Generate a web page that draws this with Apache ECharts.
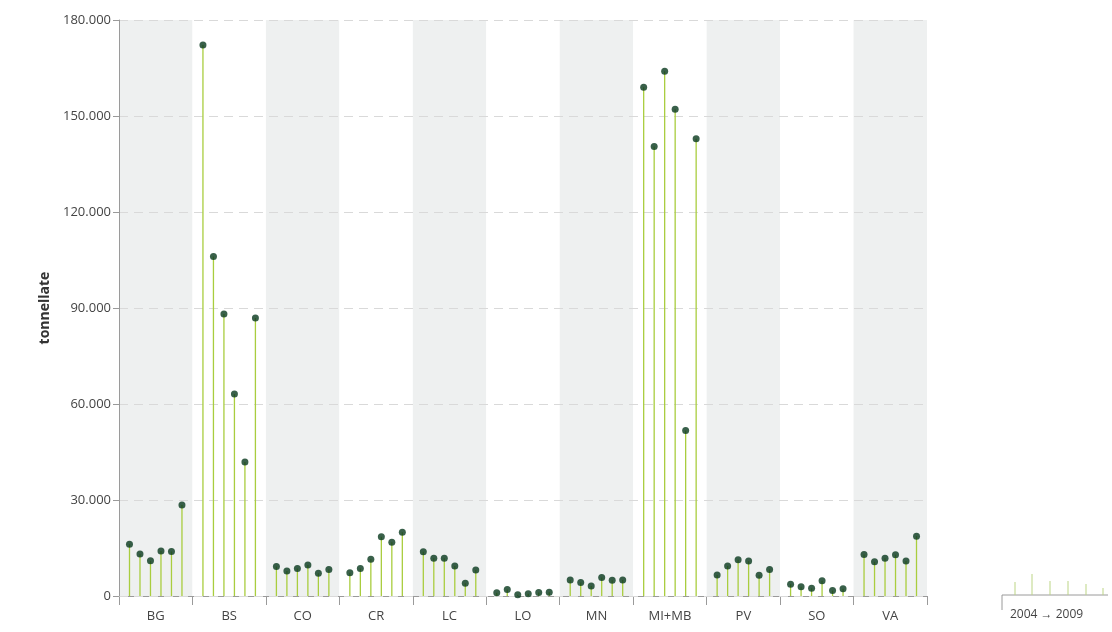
<!DOCTYPE html>
<html lang="it">
<head>
	<meta charset="UTF-8">
	<title>tonnellate per provincia 2004-2009</title>
	<script src="https://cdn.jsdelivr.net/npm/echarts@6/dist/echarts.min.js"></script>
	<style>
		html,body{width:100%;height:100%;margin:0;background:#fff;}
		#chart{width:1112px;height:632px;}
	</style>
</head>
<body>
	<div id="chart"></div>
<script>
	// province e anni
	var province = ['BG', 'BS', 'CO', 'CR', 'LC', 'LO', 'MN', 'MI+MB', 'PV', 'SO', 'VA'];
	var anni = [2004, 2005, 2006, 2007, 2008, 2009];

	// tonnellate per anno (2004 -> 2009)
	var BG = [16200, 13100, 11000, 14100, 13900, 28400];
	var BS = [172200, 106100, 88100, 63100, 41900, 86900];
	var CO = [9200, 7800, 8600, 9700, 7100, 8300];
	var CR = [7300, 8600, 11500, 18500, 16800, 19900];
	var LC = [13800, 11800, 11800, 9400, 4000, 8100];
	var LO = [1000, 2000, 400, 700, 1100, 1200];
	var MN = [5000, 4200, 3100, 5800, 4900, 5000];
	var MIMB = [159000, 140500, 164000, 152100, 51700, 142900];
	var PV = [6600, 9400, 11300, 10900, 6500, 8300];
	var SO = [3700, 2900, 2400, 4800, 1700, 2300];
	var VA = [13000, 10700, 11800, 12900, 10900, 18700];

	var valori = [BG, BS, CO, CR, LC, LO, MN, MIMB, PV, SO, VA];

	var yTicks = [0, 30000, 60000, 90000, 120000, 150000, 180000];

	var myChart;

	function fmt(v) {
		return String(v).replace(/\B(?=(\d{3})+(?!\d))/g, '.');
	}

	function chart() {
		myChart = echarts.init(document.getElementById('chart'));

		// ogni provincia occupa 7 unità sull'asse x nascosto, anni in 1..6
		var slot = anni.length + 1;
		var punti = [];
		for (var i = 0; i < province.length; i++) {
			for (var j = 0; j < anni.length; j++) {
				punti.push([i * slot + j + 1, valori[i][j]]);
			}
		}

		var font = '"Open Sans", "Liberation Sans", sans-serif';

		var options = {
			animation: false,
			textStyle: {fontFamily: font},
			grid: {left: 119, right: 185, top: 20, bottom: 36},
			xAxis: [{
				type: 'category',
				data: province,
				boundaryGap: true,
				axisLine: {lineStyle: {color: '#9a9a9a', width: 1}},
				axisTick: {show: true, length: 9, lineStyle: {color: '#9a9a9a'}},
				axisLabel: {color: '#444', fontSize: 13, margin: 14, fontFamily: font},
				splitArea: {show: true, areaStyle: {color: ['#eef0f0', '#ffffff']}},
				z: 0
			}, {
				type: 'value',
				min: 0,
				max: province.length * slot,
				show: false
			}],
			yAxis: {
				type: 'value',
				min: yTicks[0],
				max: yTicks[yTicks.length - 1],
				interval: 30000,
				name: 'tonnellate',
				nameLocation: 'middle',
				nameGap: 66,
				nameTextStyle: {color: '#333', fontSize: 14, fontWeight: 'bold', fontFamily: font},
				axisLine: {show: true, lineStyle: {color: '#9a9a9a'}},
				axisTick: {show: true, length: 6, lineStyle: {color: '#9a9a9a'}},
				axisLabel: {color: '#444', fontSize: 13, margin: 8, formatter: fmt},
				splitLine: {show: true, lineStyle: {color: '#d9d9d9', type: [9, 6], width: 1}},
				z: 2
			},
			series: [{
				type: 'bar',
				xAxisIndex: 1,
				data: punti,
				barWidth: 1.3,
				itemStyle: {color: '#a9cd3e'},
				z: 3
			}, {
				type: 'scatter',
				xAxisIndex: 1,
				data: punti,
				symbolSize: 7,
				itemStyle: {color: '#07381d'},
				z: 4
			}],
			graphic: [
				{type: 'line', shape: {x1: 1002, y1: 595, x2: 1108, y2: 595}, style: {stroke: '#9a9a9a', lineWidth: 1}},
				{type: 'line', shape: {x1: 1002, y1: 595, x2: 1002, y2: 610}, style: {stroke: '#9a9a9a', lineWidth: 1}},
				{type: 'line', shape: {x1: 1015, y1: 595, x2: 1015, y2: 582}, style: {stroke: '#bcd585', lineWidth: 1}},
				{type: 'line', shape: {x1: 1032, y1: 595, x2: 1032, y2: 574}, style: {stroke: '#bcd585', lineWidth: 1}},
				{type: 'line', shape: {x1: 1050, y1: 595, x2: 1050, y2: 581}, style: {stroke: '#bcd585', lineWidth: 1}},
				{type: 'line', shape: {x1: 1068, y1: 595, x2: 1068, y2: 581}, style: {stroke: '#bcd585', lineWidth: 1}},
				{type: 'line', shape: {x1: 1086, y1: 595, x2: 1086, y2: 584}, style: {stroke: '#bcd585', lineWidth: 1}},
				{type: 'line', shape: {x1: 1103, y1: 595, x2: 1103, y2: 588}, style: {stroke: '#bcd585', lineWidth: 1}},
				{type: 'text', left: 1010, top: 609, style: {text: anni[0] + ' \u2192 ' + anni[anni.length - 1], fill: '#444', font: '12px ' + font}}
			]
		};
		myChart.setOption(options);
	}

	chart();
</script>
</body>
</html>
